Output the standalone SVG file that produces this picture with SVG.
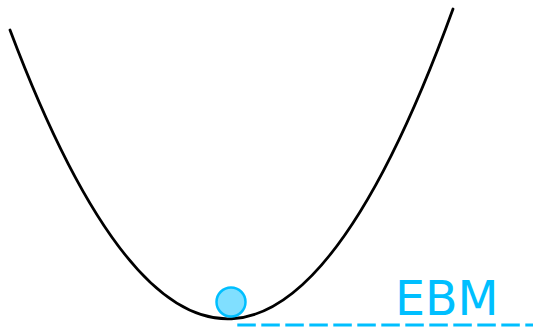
<svg xmlns="http://www.w3.org/2000/svg" width="533" height="334" viewBox="0 0 533 334">
<style>
.curve{fill:none;stroke:#000;stroke-width:2.8;stroke-linecap:round}
.ball{fill:#80dfff;stroke:#00bfff;stroke-width:2.5}
.dash{stroke:#00bfff;stroke-width:3;stroke-dasharray:18.5,5.5}
.lbl{font-family:"DejaVu Sans",sans-serif;font-size:47.5px;fill:#00bfff}
</style>
<rect width="533" height="334" fill="#fff"/>
<g id="well">
<path class="curve" d="M10,30 Q231.5,618 453,9"/>
</g>
<g id="ball">
<circle class="ball" cx="231" cy="302" r="14.5"/>
</g>
<g id="connectors">
<line class="dash" x1="237.3" y1="325" x2="533" y2="325"/>
</g>
<g id="label">
<text class="lbl" x="395" y="315">EBM</text>
</g>
</svg>
